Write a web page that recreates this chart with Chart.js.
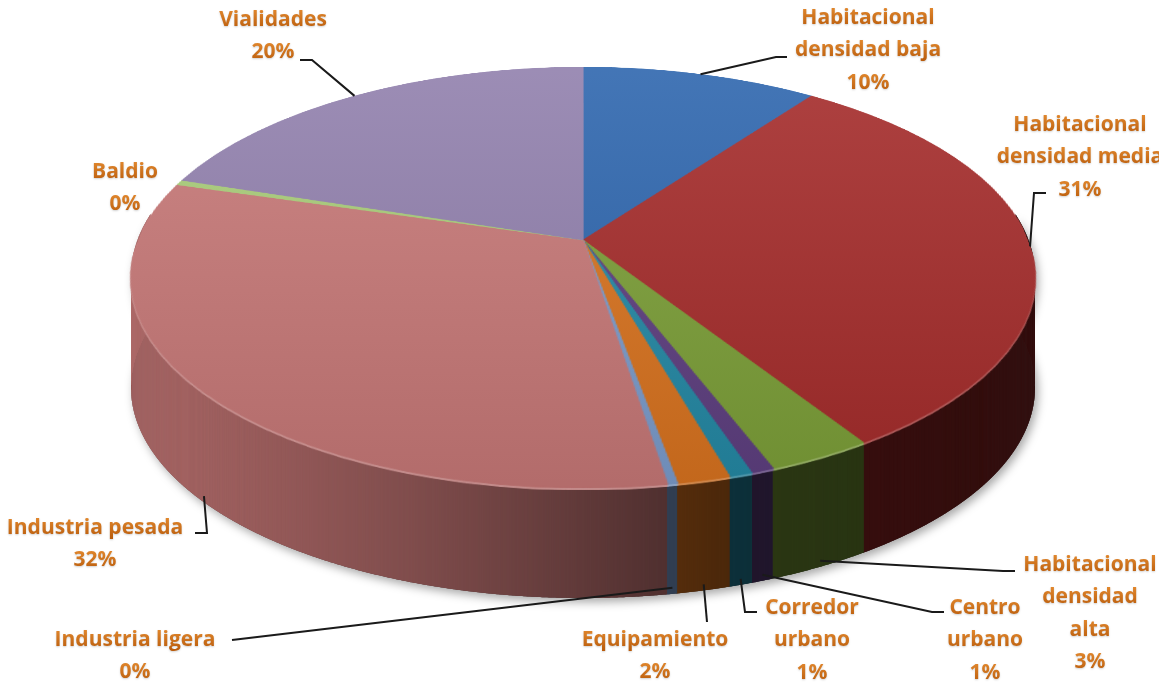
<!DOCTYPE html>
<html>
<head>
<meta charset="utf-8">
<script src="https://cdn.jsdelivr.net/npm/chart.js@4.4.1/dist/chart.umd.min.js"></script>
<style>
    html, body { margin: 0; padding: 0; background: #fff; }
    #wrap { width: 1159px; height: 686px; position: relative; }
</style>
</head>
<body>
<div id="wrap"><canvas id="usoSuelo" width="1159" height="686"></canvas></div>
<script>
// ---- datos: uso de suelo (% de la superficie) ----
const categorias = ['Habitacional densidad baja', 'Habitacional densidad media', 'Habitacional densidad alta',
    'Centro urbano', 'Corredor urbano', 'Equipamiento', 'Industria ligera', 'Industria pesada', 'Baldio', 'Vialidades'];
const porcentajes = [10.0, 31.0, 3.2, 0.7, 0.7, 1.6, 0.3, 32.1, 0.4, 20.0];
const colores = ['#2e66ae', '#a52c2b', '#7c9f38', '#5e3f80', '#2489a5', '#d9731f', '#7b9ccc', '#c77877', '#a8cc78', '#9180ad'];

// palabras por renglón de cada etiqueta (el % va en el último renglón)
const renglones = [[1, 2], [1, 2], [1, 1, 1], [1, 1], [1, 1], [1], [2], [2], [1], [1]];

// posición de cada etiqueta y puntos de su línea guía
const etiquetas = [
    { x: 868, y: 18, guia: [[776, 57], [787, 57]] },
    { x: 1080, y: 125, guia: [[1034, 193], [1046, 193]] },
    { x: 1090, y: 565, guia: [[1003, 571], [1015, 571]] },
    { x: 985, y: 608, guia: [[932, 612], [944, 612]] },
    { x: 812, y: 608, guia: [[745, 612], [757, 612]] },
    { x: 655, y: 640, guia: [[707, 622]] },
    { x: 135, y: 640, guia: [[232, 640]] },
    { x: 95, y: 528, guia: [[207, 533], [195, 533]] },
    { x: 125, y: 172, guia: null },
    { x: 273, y: 20, guia: [[312, 60], [300, 60]] }
];

// geometría de la vista en perspectiva
const vista = { cx: 583, apexY: 240, topY: 67, bottomY: 488, halfWidth: 452, depth: 110 };
// oscurecimiento del costado según la posición horizontal (0 = izquierda, 1 = derecha)
const sombraCostado = [[0, 0.08], [0.3, 0.30], [0.52, 0.50], [0.65, 0.62], [1, 0.68]];

const b = (2 * vista.apexY - vista.topY - vista.bottomY) / (vista.bottomY - vista.topY);
const q = vista.apexY - vista.topY + vista.topY * b;
const k = vista.halfWidth * Math.sqrt(1 - b * b);

function proyectar(u, v) {
    const w = 1 + b * v;
    return { x: vista.cx + k * u / w, y: (vista.apexY + q * v) / w };
}
function filaAv(y) { return (y - vista.apexY) / (q - b * y); }

function nuevoCanvas(w, h) {
    const c = document.createElement('canvas');
    c.width = w; c.height = h;
    return c;
}

function hexARgb(h) {
    const n = parseInt(h.slice(1), 16);
    return [(n >> 16) & 255, (n >> 8) & 255, n & 255];
}

function oscuridad(x) {
    const f = (x - (vista.cx - vista.halfWidth)) / (2 * vista.halfWidth);
    if (f <= sombraCostado[0][0]) return sombraCostado[0][1];
    for (let i = 1; i < sombraCostado.length; i++) {
        const [f1, a1] = sombraCostado[i];
        const [f0, a0] = sombraCostado[i - 1];
        if (f <= f1) return a0 + (a1 - a0) * (f - f0) / (f1 - f0);
    }
    return sombraCostado[sombraCostado.length - 1][1];
}

/* ============================================================
   1. PASTEL 3D: deforma el pastel plano de Chart.js
   ============================================================ */
const pastel3d = {
    id: 'pastel3d',
    afterDatasetsDraw(chart) {
        const arcos = chart.getDatasetMeta(0).data;
        const cx0 = arcos[0].x, cy0 = arcos[0].y, R = arcos[0].outerRadius;
        const W = chart.canvas.width, H = chart.canvas.height;

        const plano = nuevoCanvas(W, H);
        plano.getContext('2d').drawImage(chart.canvas, 0, 0);

        const ctx = chart.ctx;
        ctx.save();
        ctx.setTransform(1, 0, 0, 1, 0, 0);
        ctx.clearRect(0, 0, W, H);

        // cara superior, renglón por renglón
        const tapa = nuevoCanvas(W, H);
        const tc = tapa.getContext('2d');
        for (let y = Math.floor(vista.topY) - 1; y < Math.ceil(vista.bottomY) + 1; y++) {
            const v1 = Math.max(-1, filaAv(y)), v2 = Math.min(1, filaAv(y + 1));
            if (v2 <= v1) continue;
            const vm = (v1 + v2) / 2;
            const half = k / (1 + b * vm);
            tc.drawImage(plano, cx0 - R, cy0 + v1 * R, 2 * R, (v2 - v1) * R, vista.cx - half, y, 2 * half, 1);
        }
        tc.globalCompositeOperation = 'source-atop';
        const gl = tc.createLinearGradient(0, vista.topY, 0, vista.bottomY);
        gl.addColorStop(0, 'rgba(255,255,255,0.10)');
        gl.addColorStop(1, 'rgba(0,0,0,0.10)');
        tc.fillStyle = gl;
        tc.fillRect(0, 0, W, H);

        // costado: tiras verticales bajo el borde frontal
        const D = vista.depth;
        const t0 = -0.12, t1 = Math.PI + 0.12, N = 1600;
        const borde = [];
        for (let i = 0; i <= N; i++) {
            const t = t0 + (t1 - t0) * i / N;
            borde.push({ t, ...proyectar(Math.cos(t), Math.sin(t)) });
        }

        ctx.save();
        ctx.shadowColor = 'rgba(0,0,0,0.35)';
        ctx.shadowBlur = 10;
        ctx.shadowOffsetX = 3;
        ctx.shadowOffsetY = 4;
        ctx.beginPath();
        borde.forEach((p, i) => i ? ctx.lineTo(p.x, p.y + D) : ctx.moveTo(p.x, p.y + D));
        for (let i = N; i >= 0; i--) ctx.lineTo(borde[i].x, borde[i].y);
        ctx.closePath();
        ctx.fillStyle = '#444';
        ctx.fill();
        ctx.restore();

        const rgbs = colores.map(hexARgb);
        function arcoEn(t) {
            while (t < -Math.PI / 2) t += 2 * Math.PI;
            while (t >= 1.5 * Math.PI) t -= 2 * Math.PI;
            const i = arcos.findIndex(a => t >= a.startAngle && t < a.endAngle);
            return i < 0 ? arcos.length - 1 : i;
        }
        for (let i = 0; i < N; i++) {
            const pa = borde[i], pb = borde[Math.min(N, i + 2)];
            const idx = arcoEn((borde[i].t + borde[i + 1].t) / 2);
            const a = oscuridad((pa.x + pb.x) / 2);
            const c = rgbs[idx].map(ch => Math.round(ch * 0.93 * (1 - a)));
            ctx.fillStyle = `rgb(${c[0]},${c[1]},${c[2]})`;
            ctx.beginPath();
            ctx.moveTo(pa.x, pa.y - 2);
            ctx.lineTo(pb.x, pb.y - 2);
            ctx.lineTo(pb.x, pb.y + D);
            ctx.lineTo(pa.x, pa.y + D);
            ctx.closePath();
            ctx.fill();
        }

        // brillo del canto
        const brillo = nuevoCanvas(W, H);
        const bc = brillo.getContext('2d');
        bc.drawImage(tapa, 0, 0);
        bc.globalCompositeOperation = 'source-atop';
        bc.fillStyle = 'rgba(255,255,255,0.22)';
        bc.fillRect(0, 0, W, H);
        ctx.drawImage(brillo, 0, 2);
        ctx.drawImage(brillo, 0, 1);
        ctx.drawImage(tapa, 0, 0);
        ctx.restore();
    }
};

/* ============================================================
   2. ETIQUETAS CON LÍNEAS GUÍA
   ============================================================ */
const etiquetasPlugin = {
    id: 'etiquetas',
    afterDraw(chart) {
        const ctx = chart.ctx;
        const meta = chart.getDatasetMeta(0);
        const total = porcentajes.reduce((a, c) => a + c, 0);
        ctx.save();
        ctx.font = 'bold 21px "Open Sans", Lato, sans-serif';
        ctx.textAlign = 'center';
        ctx.textBaseline = 'middle';
        ctx.strokeStyle = '#1a1a1a';
        ctx.lineWidth = 2;

        meta.data.forEach((arc, i) => {
            const mid = (arc.startAngle + arc.endAngle) / 2;
            const u = Math.cos(mid), v = Math.sin(mid);
            const p = proyectar(u, v);
            if (v > 0.3) p.y += vista.depth - 6;
            const lay = etiquetas[i];

            if (lay.guia) {
                ctx.beginPath();
                ctx.moveTo(p.x, p.y);
                lay.guia.forEach(([x, y]) => ctx.lineTo(x, y));
                ctx.stroke();
            }

            const palabras = categorias[i].split(' ');
            const lineas = [];
            let w = 0;
            renglones[i].forEach(n => { lineas.push(palabras.slice(w, w + n).join(' ')); w += n; });
            lineas.push(Math.round(porcentajes[i] / total * 100) + '%');

            ctx.shadowColor = 'rgba(0,0,0,0.18)';
            ctx.shadowBlur = 2;
            ctx.shadowOffsetY = 1;
            lineas.forEach((t, j) => {
                const y = lay.y + j * 32.5;
                const g = ctx.createLinearGradient(0, y - 10, 0, y + 10);
                g.addColorStop(0, '#e0862c');
                g.addColorStop(1, '#b95c0c');
                ctx.fillStyle = g;
                ctx.fillText(t, lay.x, y);
            });
            ctx.shadowColor = 'transparent';
        });
        ctx.restore();
    }
};

new Chart(document.getElementById('usoSuelo'), {
    type: 'pie',
    data: {
        labels: categorias,
        datasets: [{
            data: porcentajes,
            backgroundColor: colores,
            borderColor: colores,
            borderWidth: 1
        }]
    },
    options: {
        responsive: false,
        devicePixelRatio: 1,
        animation: false,
        layout: { padding: 0 },
        plugins: {
            legend: { display: false },
            tooltip: { enabled: false }
        }
    },
    plugins: [pastel3d, etiquetasPlugin]
});
</script>
</body>
</html>
